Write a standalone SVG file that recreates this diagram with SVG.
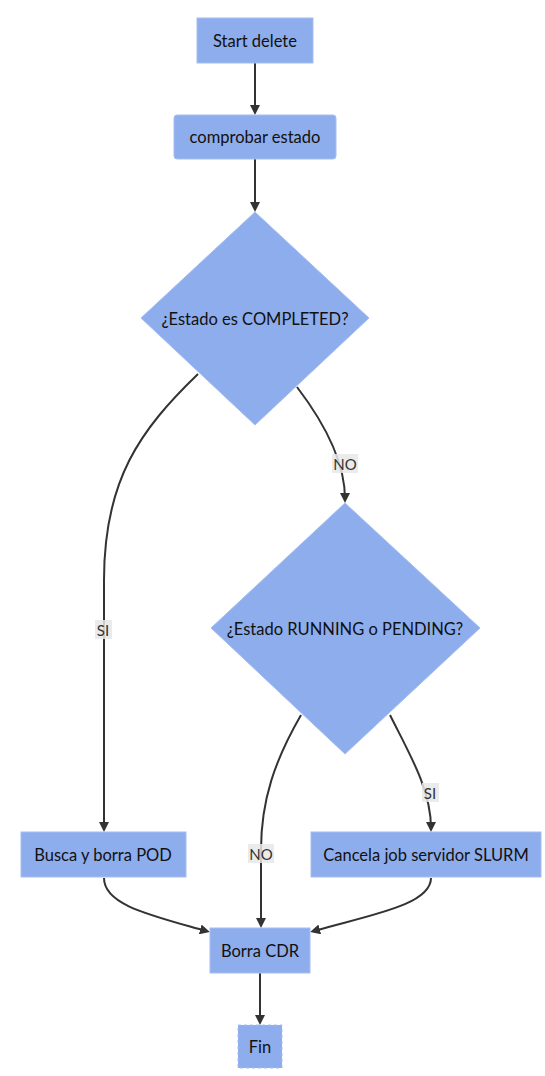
<svg xmlns="http://www.w3.org/2000/svg" width="545" height="1076" viewBox="0 0 545 1076">
<style>
.node{fill:#8eadec;stroke:#a6bef2;stroke-width:1}
.fin{stroke-dasharray:3 3}
.lbl{font-family:Lato,"Liberation Sans",sans-serif;font-size:16.5px;fill:#111;text-anchor:middle;dominant-baseline:central}
.edge{fill:none;stroke:#333;stroke-width:2}
.elbg{fill:#e8e8e8;opacity:0.85}
.elt{font-family:Lato,"Liberation Sans",sans-serif;font-size:15px;fill:#333;text-anchor:middle;dominant-baseline:central}
</style>
<defs>
<marker id="arr" viewBox="0 0 10 10" refX="6" refY="5" markerWidth="10" markerHeight="10" markerUnits="userSpaceOnUse" orient="auto">
<path d="M0,0 L10,5 L0,10 z" fill="#333"/>
</marker>
</defs>
<rect width="545" height="1076" fill="#ffffff"/>
<g id="connectors">
<path class="edge" d="M255,63 L255,111" marker-end="url(#arr)"/>
<path class="edge" d="M255,159 L255,208" marker-end="url(#arr)"/>
<path class="edge" d="M198,374 C140,430 104,480 104,580 L104,828" marker-end="url(#arr)"/>
<path class="edge" d="M297,387 Q345,450 345,499" marker-end="url(#arr)"/>
<path class="edge" d="M301,715 C275,760 261,800 261,850 L261,924" marker-end="url(#arr)"/>
<path class="edge" d="M390,715 C410,755 431,790 431,828" marker-end="url(#arr)"/>
<path class="edge" d="M104,878 C104,905 150,915 206,931" marker-end="url(#arr)"/>
<path class="edge" d="M431,878 C431,905 370,915 314,931" marker-end="url(#arr)"/>
<path class="edge" d="M260,973 L260,1021" marker-end="url(#arr)"/>
</g>
<g id="edge-labels">
<rect class="elbg" x="95" y="620" width="17" height="19"/><text class="elt" x="103" y="630">SI</text>
<rect class="elbg" x="332" y="454" width="26" height="19"/><text class="elt" x="345" y="464">NO</text>
<rect class="elbg" x="248" y="844" width="26" height="19"/><text class="elt" x="261" y="854">NO</text>
<rect class="elbg" x="422" y="783" width="17" height="19"/><text class="elt" x="430" y="793">SI</text>
</g>
<g id="start"><rect class="node" x="197" y="18" width="116" height="45"/><text class="lbl" x="255" y="41">Start delete</text></g>
<g id="comprobar"><rect class="node" x="174" y="115" width="162" height="44" rx="3"/><text class="lbl" x="255" y="137">comprobar estado</text></g>
<g id="completed"><polygon class="node" points="255,212 369,318 255,425 141,318"/><text class="lbl" x="255" y="319">¿Estado es COMPLETED?</text></g>
<g id="running"><polygon class="node" points="345,503 480,628 345,754 211,628"/><text class="lbl" x="345" y="629">¿Estado RUNNING o PENDING?</text></g>
<g id="busca"><rect class="node" x="21" y="832" width="165" height="45"/><text class="lbl" x="103" y="855">Busca y borra POD</text></g>
<g id="cancela"><rect class="node" x="311" y="832" width="230" height="45"/><text class="lbl" x="426" y="855">Cancela job servidor SLURM</text></g>
<g id="borra"><rect class="node" x="210" y="928" width="100" height="45"/><text class="lbl" x="260" y="951">Borra CDR</text></g>
<g id="fin"><rect class="node fin" x="238" y="1025" width="44" height="43"/><text class="lbl" x="260" y="1047">Fin</text></g>
</svg>
